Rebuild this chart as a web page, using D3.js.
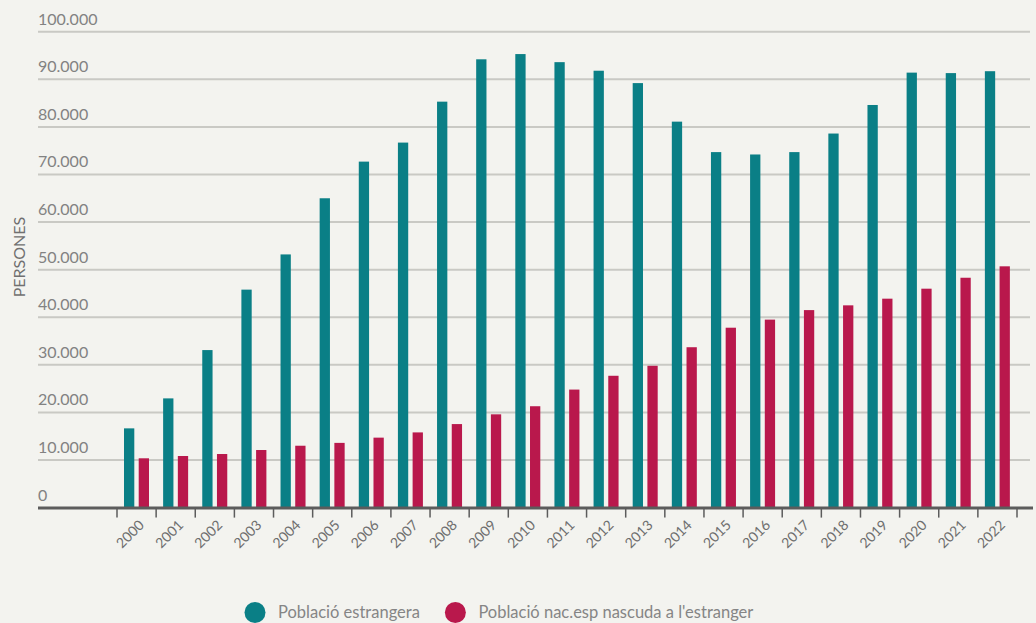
<!DOCTYPE html>
<html>
<head>
<meta charset="utf-8">
<script src="https://cdn.jsdelivr.net/npm/d3@7"></script>
<style>
  html, body { margin: 0; padding: 0; background: #f3f3ef; }
  svg { display: block; font-family: Lato, "Open Sans", sans-serif; }
</style>
</head>
<body>
<svg id="chart" width="1036" height="623"></svg>
<script>
const years = ["2000","2001","2002","2003","2004","2005","2006","2007","2008","2009","2010","2011","2012","2013","2014","2015","2016","2017","2018","2019","2020","2021","2022"];
const estrangera = [16650, 22950, 33100, 45800, 53200, 65000, 72700, 76700, 85300, 94200, 95300, 93600, 91800, 89200, 81100, 74700, 74200, 74700, 78600, 84600, 91400, 91300, 91700];
const nacEsp = [10360, 10840, 11260, 12100, 13000, 13600, 14700, 15800, 17550, 19600, 21300, 24800, 27700, 29800, 33700, 37800, 39500, 41500, 42500, 43900, 46000, 48300, 50700];
const seriesNames = ["Població estrangera", "Població nac.esp nascuda a l'estranger"];
const seriesColors = ["#0a7f86", "#b9184c"];
const yTicks = [0, 10000, 20000, 30000, 40000, 50000, 60000, 70000, 80000, 90000, 100000];
const yTitle = "PERSONES";

const svg = d3.select("#chart");
const locale = d3.formatLocale({decimal: ",", thousands: ".", grouping: [3], currency: ["", "€"]});
const fmt = locale.format(",d");

const gridLeft = 38, gridRight = 1030;
const y = d3.scaleLinear().domain([0, 100000]).range([507.6, 31.7]);
const x0 = d3.scaleBand().domain(years).range([117, 1017]).paddingInner(0).paddingOuter(0);
const x1 = d3.scaleBand().domain([0, 1]).range([7, 32]).paddingInner(0.3);

// gridlines
svg.append("g").selectAll("line").data(yTicks.filter(d => d > 0)).join("line")
  .attr("x1", gridLeft).attr("x2", gridRight)
  .attr("y1", d => y(d)).attr("y2", d => y(d))
  .attr("stroke", "#c9c9c4").attr("stroke-width", 2);

// y labels
svg.append("g").selectAll("text").data(yTicks).join("text")
  .attr("x", gridLeft).attr("y", d => y(d) - 7)
  .attr("fill", "#828282").attr("font-size", 16)
  .text(d => fmt(d));

// y title
svg.append("text")
  .attr("transform", `translate(25,257) rotate(-90)`)
  .attr("text-anchor", "middle").attr("fill", "#707070").attr("font-size", 16)
  .text(yTitle);

// bars
const rows = years.map((yr, i) => ({year: yr, vals: [estrangera[i], nacEsp[i]]}));
const groups = svg.append("g").selectAll("g").data(rows).join("g")
  .attr("transform", d => `translate(${x0(d.year)},0)`);
groups.selectAll("rect").data(d => d.vals.map((v, k) => ({k, v}))).join("rect")
  .attr("x", d => x1(d.k)).attr("width", x1.bandwidth())
  .attr("y", d => y(d.v)).attr("height", d => y(0) - y(d.v))
  .attr("fill", d => seriesColors[d.k]);

// x axis line
svg.append("line").attr("x1", gridLeft).attr("x2", 1033)
  .attr("y1", y(0) + 0.5).attr("y2", y(0) + 0.5)
  .attr("stroke", "#5c5c5c").attr("stroke-width", 3);

// ticks at band boundaries
const tickPos = years.map(d => x0(d)).concat([x0(years[years.length - 1]) + x0.bandwidth()]);
svg.append("g").selectAll("line").data(tickPos).join("line")
  .attr("x1", d => d).attr("x2", d => d)
  .attr("y1", y(0) + 1).attr("y2", y(0) + 10)
  .attr("stroke", "#5c5c5c").attr("stroke-width", 1.5);

// x labels
svg.append("g").selectAll("text").data(years).join("text")
  .attr("transform", d => `translate(${x0(d) + x0.bandwidth() / 2 + 5},${y(0) + 15}) rotate(-45)`)
  .attr("text-anchor", "end").attr("dy", "0.35em")
  .attr("fill", "#6e6e6e").attr("font-size", 14)
  .text(d => d);

// legend
const leg = svg.append("g");
let lx = 255;
seriesNames.forEach((name, k) => {
  leg.append("circle").attr("cx", lx).attr("cy", 612.5).attr("r", 10.5).attr("fill", seriesColors[k]);
  const t = leg.append("text").attr("x", lx + 23).attr("y", 617.5)
    .attr("fill", "#858585").attr("font-size", 16.5).text(name);
  lx = lx + 23 + t.node().getComputedTextLength() + 25 + 10.5;
});
</script>
</body>
</html>
